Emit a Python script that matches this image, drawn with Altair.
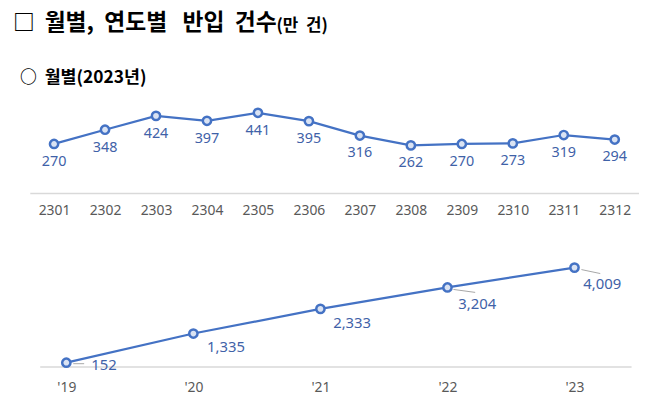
import altair as alt
import pandas as pd

# ---- data ----
months = ["2301", "2302", "2303", "2304", "2305", "2306",
          "2307", "2308", "2309", "2310", "2311", "2312"]
monthly = [270, 348, 424, 397, 441, 395, 316, 262, 270, 273, 319, 294]

years = ["'19", "'20", "'21", "'22", "'23"]
yearly = [152, 1335, 2333, 3204, 4009]
yearly_labels = ["152", "1,335", "2,333", "3,204", "4,009"]

title_box = ["□"]
title_main = ["월별,\u00a0\u00a0연도별\u00a0\u00a0\u00a0반입\u00a0\u00a0건수"]
title_unit = ["(만\u00a0\u00a0건)"]
sub_circle = ["○"]
sub_text = ["월별(2023년)"]

LINE = "#4472c4"
FILL = "#dae3f3"
LBL = "#3f62a8"
TICK = "#595959"
KFONT = "Noto Sans CJK KR"
NFONT = "Noto Sans"

# ---- monthly chart ----
dfA = pd.DataFrame({"month": months, "value": monthly})
xA = alt.X("month:O", sort=months,
           scale=alt.Scale(type="point", padding=0.476, range=[17, 632]),
           axis=alt.Axis(title=None, labelAngle=0, ticks=False, grid=False,
                         domainColor="#d9d9d9", domainWidth=1.5,
                         labelColor=TICK, labelFont=NFONT, labelFontSize=14,
                         labelPadding=11))
yA = alt.Y("value:Q", scale=alt.Scale(domain=[0, 506]), axis=None)

baseA = alt.Chart(dfA).encode(x=xA, y=yA)
lineA = baseA.mark_line(color=LINE, strokeWidth=2.25)
ptsA = baseA.mark_point(shape="circle", size=70, filled=True, fill=FILL,
                        stroke=LINE, strokeWidth=2.5, opacity=1)
txtA = baseA.mark_text(dy=18, fontSize=14.5, color=LBL, font=NFONT).encode(
    text="value:Q")


def label(items, x, y, size, weight="bold"):
    return alt.Chart(pd.DataFrame({"t": items})).mark_text(
        align="left", baseline="middle", font=KFONT, fontSize=size,
        fontWeight=weight, color="#000000").encode(
        text="t:N", x=alt.value(x), y=alt.value(y))


titles = (label(title_box, 0, -79, 22) + label(title_main, 32, -79, 23)
          + label(title_unit, 266, -76, 17)
          + label(sub_circle, 7, -23, 17) + label(sub_text, 32, -23, 17.5))

chartA = alt.layer(lineA, ptsA, txtA, titles).properties(width=632, height=93)

# ---- yearly chart ----
dfB = pd.DataFrame({"year": years, "value": yearly, "label": yearly_labels})
xB = alt.X("year:O", sort=years,
           scale=alt.Scale(type="point", padding=0.3275, align=0.32,
                           range=[27, 624]),
           axis=alt.Axis(title=None, labelAngle=0, ticks=False, grid=False,
                         domainColor="#d9d9d9", domainWidth=1.5,
                         labelColor=TICK, labelFont=NFONT, labelFontSize=14,
                         labelPadding=14))
yB = alt.Y("value:Q", scale=alt.Scale(domain=[0, 4540]), axis=None)

baseB = alt.Chart(dfB).encode(x=xB, y=yB)
lineB = baseB.mark_line(color=LINE, strokeWidth=2.25)
ptsB = baseB.mark_point(shape="circle", size=70, filled=True, fill=FILL,
                        stroke=LINE, strokeWidth=2.5, opacity=1)

label_off = {"152": (38, 2), "1,335": (33, 14), "2,333": (32, 14),
             "3,204": (30, 17), "4,009": (28, 17)}
txtB = [baseB.transform_filter(alt.datum.label == k).mark_text(
    dx=dx, dy=dy, fontSize=15, color=LBL, font=NFONT).encode(text="label:N")
    for k, (dx, dy) in label_off.items()]

leader_off = {"152": (7, 1, 18, 1), "3,204": (6, 2, 28, 5),
              "4,009": (7, 2, 26, 6)}
leadB = [baseB.transform_filter(alt.datum.label == k).mark_rule(
    color="#a6a6a6", strokeWidth=1, xOffset=a, yOffset=b,
    x2Offset=c, y2Offset=d).encode(x2="year:O", y2="value:Q")
    for k, (a, b, c, d) in leader_off.items()]

chartB = alt.layer(*leadB, lineB, ptsB, *txtB).properties(width=624, height=113)

chart = alt.vconcat(chartA, chartB, spacing=37).properties(
    padding={"left": 5, "top": 2, "right": 0, "bottom": 2},
    background="white",
).configure_view(stroke=None)

chart.save("out.html", embed_options={"renderer": "svg", "actions": False})
